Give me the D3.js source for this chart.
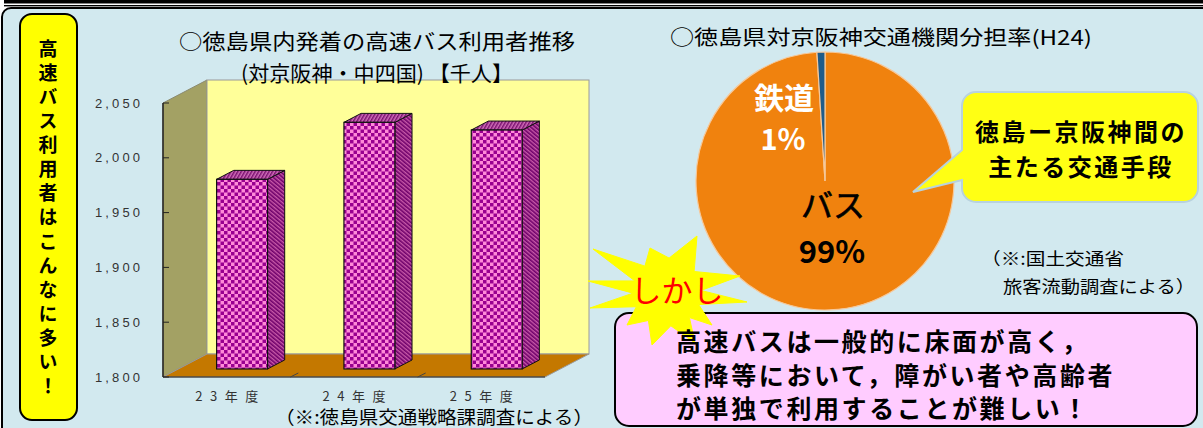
<!DOCTYPE html>
<html><head><meta charset="utf-8">
<script src="https://cdn.jsdelivr.net/npm/d3@7"></script>
<style>body{margin:0;background:#fff}svg{display:block}</style>
</head><body>
<script>
// ---- data ----
const categories = ["23年度", "24年度", "25年度"];
const busUsers = [1973, 2025, 2018];          // 千人
const yTicks = [1800, 1850, 1900, 1950, 2000, 2050];
const shareLabels = ["バス", "鉄道"];
const shareValues = [99, 1];                  // %
const barTitle1 = "○徳島県内発着の高速バス利用者推移";
const barTitle2 = "(対京阪神・中四国) 【千人】";
const pieTitle = "○徳島県対京阪神交通機関分担率(H24)";
const sideLabel = "高速バス利用者はこんなに多い！";
const calloutLines = ["徳島ー京阪神間の", "主たる交通手段"];
const warnLines = ["高速バスは一般的に床面が高く，", "乗降等において，障がい者や高齢者", "が単独で利用することが難しい！"];

const W = 1203, H = 428;
const JP = "'Noto Sans CJK JP','Noto Sans',sans-serif";
const svg = d3.select("body").append("svg").attr("width", W).attr("height", H);
const defs = svg.append("defs");

// patterns for 3D bars
const chk = defs.append("pattern").attr("id", "chk").attr("patternUnits", "userSpaceOnUse")
  .attr("width", 7).attr("height", 7);
chk.append("rect").attr("width", 7).attr("height", 7).attr("fill", "#FF8AD8");
chk.append("rect").attr("width", 3.5).attr("height", 3.5).attr("fill", "#990090");
chk.append("rect").attr("x", 3.5).attr("y", 3.5).attr("width", 3.5).attr("height", 3.5).attr("fill", "#990090");
const side = defs.append("pattern").attr("id", "side").attr("patternUnits", "userSpaceOnUse")
  .attr("width", 3).attr("height", 3).attr("patternTransform", "rotate(-50)");
side.append("rect").attr("width", 3).attr("height", 3).attr("fill", "#C85AA8");
side.append("rect").attr("width", 1.6).attr("height", 3).attr("fill", "#6E006A");
const topP = defs.append("pattern").attr("id", "topP").attr("patternUnits", "userSpaceOnUse")
  .attr("width", 3).attr("height", 3).attr("patternTransform", "rotate(30)");
topP.append("rect").attr("width", 3).attr("height", 3).attr("fill", "#D070B8");
topP.append("rect").attr("width", 1.5).attr("height", 3).attr("fill", "#7A1070");

// ---- frame ----
svg.append("rect").attr("x", 4).attr("y", 0).attr("width", W).attr("height", 3.5).attr("fill", "#000");
svg.append("rect").attr("x", 4).attr("y", 5).attr("width", W).attr("height", 1.4).attr("fill", "#000");
svg.append("rect").attr("x", 2).attr("y", 8).attr("width", W + 30).attr("height", H + 30).attr("rx", 9)
  .attr("fill", "#D2E9EF").attr("stroke", "#000").attr("stroke-width", 2);

// vertical yellow label (single vertical text)
svg.append("rect").attr("x", 20).attr("y", 14).attr("width", 57).attr("height", 406).attr("rx", 12)
  .attr("fill", "#FFFF00").attr("stroke", "#000").attr("stroke-width", 2);
svg.append("text").attr("x", 48).attr("y", 39)
  .style("writing-mode", "vertical-rl").style("text-orientation", "upright")
  .attr("font-family", JP).attr("font-weight", "bold").attr("font-size", 19)
  .attr("letter-spacing", 5.1).text(sideLabel);

// ---- 3D bar chart ----
const x0 = 163, x1 = 545, yB = 377, yT = 103, dX = 44, dY = -23;
const x = d3.scaleBand().domain(categories).range([x0, x1]);
const y = d3.scaleLinear().domain([1800, 2050]).range([yB, yT]);
const line = d3.line();

svg.append("path").attr("d", line([[x0, yT], [x0 + dX, yT + dY], [x0 + dX, yB + dY], [x0, yB]]) + "Z")
  .attr("fill", "#A3A164").attr("stroke", "#8a8a70").attr("stroke-width", 1);
svg.append("rect").attr("x", x0 + dX).attr("y", yT + dY).attr("width", x1 - x0).attr("height", yB - yT)
  .attr("fill", "#FFFF99").attr("stroke", "#9a9a9a").attr("stroke-width", 1);
svg.append("path").attr("d", line([[x0, yB], [x0 + dX, yB + dY], [x1 + dX, yB + dY], [x1, yB]]) + "Z")
  .attr("fill", "#C47800").attr("stroke", "#9a9a9a").attr("stroke-width", 1);

// axes
svg.append("line").attr("x1", x0).attr("x2", x0).attr("y1", yT).attr("y2", yB).attr("stroke", "#222").attr("stroke-width", 1.5);
svg.append("line").attr("x1", x0).attr("x2", x1).attr("y1", yB).attr("y2", yB).attr("stroke", "#222").attr("stroke-width", 1);
svg.append("g").selectAll("line").data(yTicks).join("line")
  .attr("x1", x0).attr("x2", x0 + 6).attr("y1", d => y(d)).attr("y2", d => y(d))
  .attr("stroke", "#222").attr("stroke-width", 1);
svg.append("g").selectAll("text").data(yTicks).join("text")
  .attr("x", 95).attr("y", d => y(d)).attr("dominant-baseline", "central")
  .attr("font-family", "'Liberation Sans',Arial,sans-serif").attr("font-size", 13).attr("fill", "#333")
  .attr("textLength", 45).attr("lengthAdjust", "spacing")
  .text(d => d3.format(",")(d));
svg.append("g").selectAll("line").data(categories.slice(1)).join("line")
  .attr("x1", d => x(d)).attr("x2", d => x(d) + 8).attr("y1", yB).attr("y2", yB - 4)
  .attr("stroke", "#444").attr("stroke-width", 1);

// bars
const f1 = 0.35, f2 = 0.74;
const bw = x.bandwidth() * 0.4;
const ddx = (f2 - f1) * dX, ddy = (f2 - f1) * dY;
const bars = svg.append("g").selectAll("g").data(categories.map((c, i) => ({ c, v: busUsers[i] }))).join("g");
bars.each(function (d) {
  const g = d3.select(this);
  const cx = x(d.c) + x.bandwidth() / 2 + f1 * dX;
  const yb = yB + f1 * dY, top = y(d.v) + f1 * dY;
  const l = cx - bw / 2, r = cx + bw / 2;
  g.append("path").attr("d", line([[r, top], [r + ddx, top + ddy], [r + ddx, yb + ddy], [r, yb]]) + "Z")
    .attr("fill", "url(#side)").attr("stroke", "#111").attr("stroke-width", 1);
  g.append("path").attr("d", line([[l, top], [l + ddx, top + ddy], [r + ddx, top + ddy], [r, top]]) + "Z")
    .attr("fill", "url(#topP)").attr("stroke", "#111").attr("stroke-width", 1);
  g.append("rect").attr("x", l).attr("y", top).attr("width", bw).attr("height", yb - top)
    .attr("fill", "url(#chk)").attr("stroke", "#111").attr("stroke-width", 1.2);
});

// category labels
svg.append("g").selectAll("text").data(categories).join("text")
  .attr("x", d => x(d) + x.bandwidth() / 2 - 31.5).attr("y", 395).attr("dominant-baseline", "central")
  .attr("font-family", JP).attr("font-size", 13).attr("fill", "#333")
  .attr("textLength", 63).attr("lengthAdjust", "spacing").text(d => d);

// titles
svg.append("text").attr("x", 179).attr("y", 40).attr("dominant-baseline", "central")
  .attr("font-family", JP).attr("font-size", 21).attr("textLength", 396).attr("lengthAdjust", "spacingAndGlyphs")
  .text(barTitle1);
svg.append("text").attr("x", 241).attr("y", 72).attr("dominant-baseline", "central")
  .attr("font-family", JP).attr("font-size", 21).attr("textLength", 272).attr("lengthAdjust", "spacingAndGlyphs")
  .text(barTitle2);
svg.append("text").attr("x", 275).attr("y", 416).attr("dominant-baseline", "central")
  .attr("font-family", JP).attr("font-size", 18).attr("textLength", 318).attr("lengthAdjust", "spacingAndGlyphs")
  .text("（※:徳島県交通戦略課調査による）");

// ---- pie ----
svg.append("text").attr("x", 670).attr("y", 36).attr("dominant-baseline", "central")
  .attr("font-family", JP).attr("font-size", 20).attr("textLength", 422).attr("lengthAdjust", "spacingAndGlyphs")
  .text(pieTitle);
const pc = [825, 181], pr = 129;
const pie = d3.pie().sort(null).value(d => d);
const arc = d3.arc().innerRadius(0).outerRadius(pr);
const pieColors = d3.scaleOrdinal().domain(shareLabels).range(["#F0820E", "#1F5C8A"]);
const pg = svg.append("g").attr("transform", `translate(${pc[0]},${pc[1]})`);
pg.selectAll("path").data(pie(shareValues)).join("path")
  .attr("d", arc).attr("fill", (d, i) => pieColors(shareLabels[i]))
  .attr("stroke", "#F6C89A").attr("stroke-width", 1.2);

svg.append("text").attr("x", 784).attr("y", 96).attr("text-anchor", "middle").attr("dominant-baseline", "central")
  .attr("font-family", JP).attr("font-weight", "bold").attr("font-size", 30).attr("fill", "#fff").text(shareLabels[1]);
svg.append("text").attr("x", 783).attr("y", 137).attr("text-anchor", "middle").attr("dominant-baseline", "central")
  .attr("font-family", JP).attr("font-weight", "bold").attr("font-size", 29).attr("fill", "#fff").text(shareValues[1] + "%");
svg.append("text").attr("x", 833).attr("y", 203).attr("text-anchor", "middle").attr("dominant-baseline", "central")
  .attr("font-family", JP).attr("font-size", 32).attr("fill", "#000").attr("stroke", "#000").attr("stroke-width", 0.6)
  .text(shareLabels[0]);
svg.append("text").attr("x", 832).attr("y", 249).attr("text-anchor", "middle").attr("dominant-baseline", "central")
  .attr("font-family", JP).attr("font-weight", "bold").attr("font-size", 31).attr("fill", "#000").text(shareValues[0] + "%");

// callout
const cb = { l: 962, t: 92, r: 1198, b: 202, rr: 14 };
const cp = d3.path();
cp.moveTo(cb.l + cb.rr, cb.t); cp.lineTo(cb.r - cb.rr, cb.t);
cp.arcTo(cb.r, cb.t, cb.r, cb.t + cb.rr, cb.rr); cp.lineTo(cb.r, cb.b - cb.rr);
cp.arcTo(cb.r, cb.b, cb.r - cb.rr, cb.b, cb.rr); cp.lineTo(cb.l + cb.rr, cb.b);
cp.arcTo(cb.l, cb.b, cb.l, cb.b - cb.rr, cb.rr); cp.lineTo(cb.l, 180);
cp.lineTo(913, 192); cp.lineTo(cb.l, 150); cp.lineTo(cb.l, cb.t + cb.rr);
cp.arcTo(cb.l, cb.t, cb.l + cb.rr, cb.t, cb.rr); cp.closePath();
svg.append("path").attr("d", cp.toString()).attr("fill", "#FFFF14").attr("stroke", "#B8D2DE").attr("stroke-width", 2);
svg.append("g").selectAll("text").data(calloutLines).join("text")
  .attr("x", 1081).attr("y", (d, i) => 130 + i * 35).attr("text-anchor", "middle").attr("dominant-baseline", "central")
  .attr("font-family", JP).attr("font-weight", "bold").attr("font-size", 24).attr("letter-spacing", 2.5)
  .text(d => d);

svg.append("text").attr("x", 981).attr("y", 257).attr("dominant-baseline", "central")
  .attr("font-family", JP).attr("font-size", 17).attr("textLength", 143).attr("lengthAdjust", "spacingAndGlyphs")
  .text("（※:国土交通省");
svg.append("text").attr("x", 1003).attr("y", 285).attr("dominant-baseline", "central")
  .attr("font-family", JP).attr("font-size", 17).attr("textLength", 192).attr("lengthAdjust", "spacingAndGlyphs")
  .text("旅客流動調査による）");

// pink box
svg.append("rect").attr("x", 615).attr("y", 313).attr("width", 582).attr("height", 113).attr("rx", 14)
  .attr("fill", "#FFCCFF").attr("stroke", "#000").attr("stroke-width", 2);

// star burst
const sc = [667, 292];
const tips = [[588, 281], [593, 249], [650, 248], [697, 236], [740, 276], [747, 302], [712, 325], [695, 343], [652, 345], [627, 325], [590, 308]];
const ang = p => Math.atan2(p[1] - sc[1], p[0] - sc[0]);
const starPts = [];
tips.forEach((p, i) => {
  const q = tips[(i + 1) % tips.length];
  let a1 = ang(p), a2 = ang(q);
  if (a2 < a1) a2 += 2 * Math.PI;
  const am = (a1 + a2) / 2, ri = 34;
  starPts.push(p, [sc[0] + ri * Math.cos(am), sc[1] + ri * Math.sin(am)]);
});
svg.append("path").attr("d", line(starPts) + "Z").attr("fill", "#FFFF00").attr("stroke", "#FFFF00").attr("stroke-width", 1);
svg.append("text").attr("x", 677).attr("y", 288).attr("text-anchor", "middle").attr("dominant-baseline", "central")
  .attr("font-family", JP).attr("font-size", 31).attr("fill", "#FF0000").text("しかし");

// warning text as one multi-line text block
const warn = svg.append("text").attr("x", 676).attr("y", 340).attr("dominant-baseline", "central")
  .attr("font-family", JP).attr("font-weight", "bold").attr("font-size", 25).attr("letter-spacing", 2.6);
warn.selectAll("tspan").data(warnLines).join("tspan")
  .attr("x", 676).attr("dy", (d, i) => i === 0 ? 0 : 33.5).text(d => d);
</script>
</body></html>
